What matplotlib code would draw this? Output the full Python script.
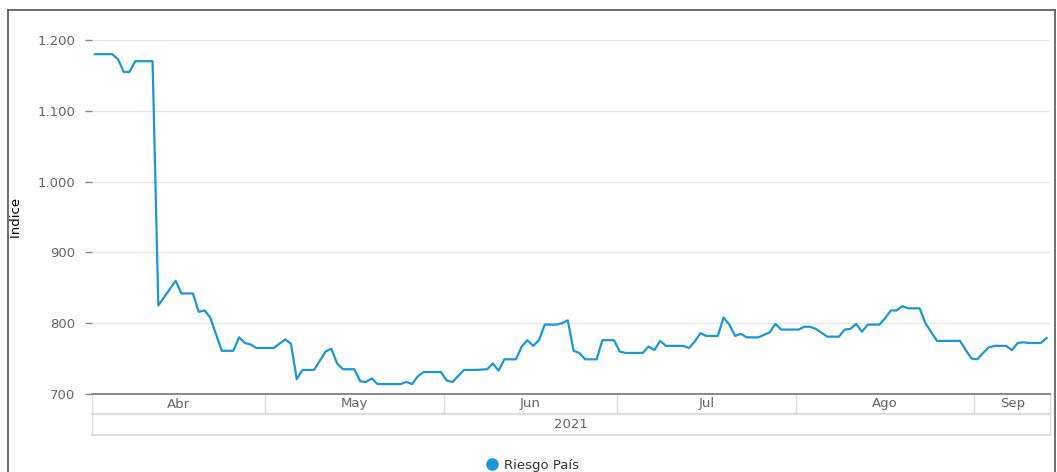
import numpy as np
import matplotlib
matplotlib.use('Agg')
import matplotlib.pyplot as plt
import pandas as pd
from matplotlib.lines import Line2D

# DATOS
fechas = ['2021-04-01', '2021-04-04', '2021-04-05', '2021-04-06', '2021-04-07', '2021-04-08',
          '2021-04-11', '2021-04-12', '2021-04-15', '2021-04-16', '2021-04-18', '2021-04-19',
          '2021-04-20', '2021-04-21', '2021-04-23', '2021-04-25', '2021-04-26', '2021-04-27',
          '2021-04-28', '2021-04-29', '2021-05-02', '2021-05-04', '2021-05-05', '2021-05-06',
          '2021-05-07', '2021-05-09', '2021-05-11', '2021-05-12', '2021-05-13', '2021-05-14',
          '2021-05-16', '2021-05-17', '2021-05-18', '2021-05-19', '2021-05-20', '2021-05-24',
          '2021-05-25', '2021-05-26', '2021-05-27', '2021-05-28', '2021-05-31', '2021-06-01',
          '2021-06-02', '2021-06-04', '2021-06-06', '2021-06-08', '2021-06-09', '2021-06-10',
          '2021-06-11', '2021-06-13', '2021-06-14', '2021-06-15', '2021-06-16', '2021-06-17',
          '2021-06-18', '2021-06-20', '2021-06-21', '2021-06-22', '2021-06-23', '2021-06-24',
          '2021-06-25', '2021-06-27', '2021-06-28', '2021-06-30', '2021-07-01', '2021-07-02',
          '2021-07-05', '2021-07-06', '2021-07-07', '2021-07-08', '2021-07-09', '2021-07-12',
          '2021-07-13', '2021-07-14', '2021-07-15', '2021-07-16', '2021-07-18', '2021-07-19',
          '2021-07-20', '2021-07-21', '2021-07-22', '2021-07-23', '2021-07-25', '2021-07-27',
          '2021-07-28', '2021-07-29', '2021-08-01', '2021-08-02', '2021-08-03', '2021-08-04',
          '2021-08-06', '2021-08-08', '2021-08-09', '2021-08-10', '2021-08-11', '2021-08-12',
          '2021-08-13', '2021-08-15', '2021-08-16', '2021-08-17', '2021-08-18', '2021-08-19',
          '2021-08-20', '2021-08-22', '2021-08-23', '2021-08-25', '2021-08-29', '2021-08-30',
          '2021-08-31', '2021-09-01', '2021-09-02', '2021-09-03', '2021-09-04', '2021-09-06',
          '2021-09-07', '2021-09-08', '2021-09-09', '2021-09-10', '2021-09-12', '2021-09-13']

riesgo_pais = [1180, 1180, 1173, 1155, 1155, 1170,
               1170, 825, 860, 842, 842, 816,
               818, 808, 761, 761, 780, 772,
               770, 765, 765, 777, 771, 721,
               734, 734, 760, 764, 743, 735,
               735, 718, 717, 722, 714, 714,
               717, 714, 725, 731, 731, 719,
               717, 734, 734, 735, 743, 733,
               749, 749, 767, 776, 768, 776,
               798, 798, 800, 804, 761, 758,
               749, 749, 776, 776, 760, 758,
               758, 767, 762, 775, 768, 768,
               765, 774, 786, 782, 782, 808,
               798, 782, 785, 780, 780, 787,
               799, 791, 791, 795, 795, 792,
               781, 781, 791, 792, 799, 788,
               798, 798, 807, 818, 818, 824,
               821, 821, 800, 775, 775, 762,
               750, 749, 758, 766, 768, 768,
               762, 772, 773, 772, 772, 779]

meses = ['Abr', 'May', 'Jun', 'Jul', 'Ago', 'Sep']
inicio_meses = ['2021-04-01', '2021-05-01', '2021-06-01', '2021-07-01', '2021-08-01', '2021-09-01']
anio = '2021'
y_ticks = [700, 800, 900, 1000, 1100, 1200]

# CONFIG
W, H = 1057, 472
AZUL = '#1a96d9'
GRIS = '#666666'

origen = pd.Timestamp('2021-04-01')
x = [(pd.Timestamp(f) - origen).days + 0.5 for f in fechas]
x_meses = [(pd.Timestamp(f) - origen).days for f in inicio_meses]
x_fin = 166.1

fig = plt.figure(figsize=(W / 100, H / 100), dpi=100)
ax = fig.add_axes([92 / W, 1 - 394 / H, (1050 - 92) / W, (394 - 40) / H])

ax.plot(x, riesgo_pais, color=AZUL, lw=1.6, label='Riesgo País', solid_joinstyle='round')

ax.set_xlim(0, x_fin)
ax.set_ylim(700, 1200)
ax.set_yticks(y_ticks)
ax.set_yticklabels(['{:,}'.format(v).replace(',', '.') for v in y_ticks])
ax.tick_params(axis='y', length=5, width=1, color='#888888', labelcolor=GRIS,
               labelsize=9.5, pad=7)
ax.set_xticks([])
ax.grid(axis='y', color='#e6e6e6', lw=1)
ax.set_axisbelow(True)
for s in ['left', 'right', 'top']:
    ax.spines[s].set_visible(False)
ax.spines['bottom'].set_color('#777777')
ax.spines['bottom'].set_linewidth(1.2)
ax.set_ylabel('Índice', fontsize=9.5, color='black', labelpad=12)
ax.yaxis.set_label_coords(-70 / (1050 - 92), 0.5)

# tabla de meses / anio bajo el eje
tr = ax.get_xaxis_transform()
alto = 394 - 40
f1 = -20 / alto
f2 = -41 / alto
bordes = x_meses + [x_fin]
for xb in bordes:
    ax.plot([xb, xb], [0, f1], transform=tr, color='#dddddd', lw=1, clip_on=False)
for xb in [0, x_fin]:
    ax.plot([xb, xb], [f1, f2], transform=tr, color='#dddddd', lw=1, clip_on=False)
ax.plot([0, x_fin], [f1, f1], transform=tr, color='#dddddd', lw=1.5, clip_on=False)
ax.plot([0, x_fin], [f2, f2], transform=tr, color='#dddddd', lw=1.5, clip_on=False)
for i, m in enumerate(meses):
    xc = (bordes[i] + bordes[i + 1]) / 2
    ax.text(xc, f1 / 2, m, transform=tr, ha='center', va='center', color=GRIS, fontsize=9.5)
ax.text(x_fin / 2, (f1 + f2) / 2, anio, transform=tr, ha='center', va='center',
        color=GRIS, fontsize=9.5)

# leyenda
h = Line2D([], [], color=AZUL, marker='o', ls='none', markersize=8)
fig.legend([h], ['Riesgo País'], loc='center', bbox_to_anchor=(533 / W, 1 - 465 / H),
           frameon=False, handlelength=0.8, handletextpad=0.5, fontsize=9.5,
           labelcolor='#333333', borderpad=0)

# marco exterior
for xs, ys in [([8, 8], [10, H + 5]), ([8, 1055], [10, 10]), ([1055, 1055], [10, H + 5])]:
    fig.add_artist(Line2D([v / W for v in xs], [1 - v / H for v in ys], color='#555555',
                          lw=1.2, transform=fig.transFigure))

plt.savefig('out.png', dpi=100)
